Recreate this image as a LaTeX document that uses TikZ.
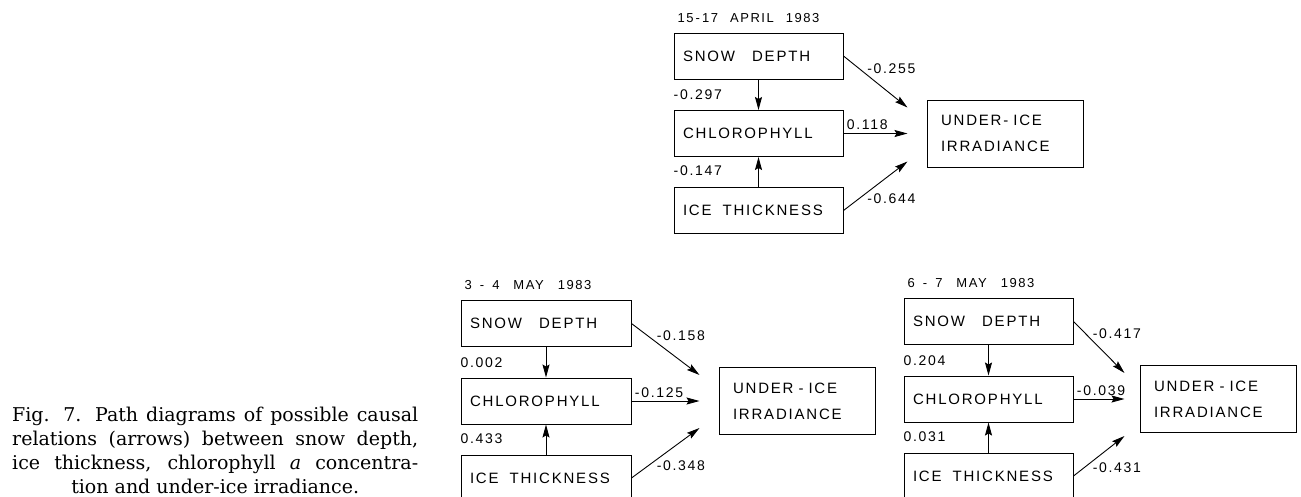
\documentclass[tikz,border=0pt]{standalone}
\usepackage{fontspec}
\usetikzlibrary{arrows.meta,positioning}
\newfontfamily\lettering[LetterSpace=12]{Liberation Sans}
\newfontfamily\captionserif{DejaVu Serif}

\begin{document}
\begin{tikzpicture}[x=1pt, y=-1pt, >={Stealth[length=13pt,width=7pt,inset=2pt]},
  box/.style={draw, line width=1pt, minimum height=46pt, inner xsep=9pt, align=left,
    font=\lettering\fontsize{15}{17}\selectfont},
  uibox/.style={draw, line width=1pt, minimum width=156pt, minimum height=67pt, inner xsep=14pt,
    text width=128pt, align=left, font=\lettering\fontsize{15}{26}\selectfont},
  coef/.style={inner sep=0pt, font=\lettering\fontsize{14}{16}\selectfont},
  datetitle/.style={inner sep=0pt, anchor=south west, font=\lettering\fontsize{13}{15}\selectfont},
  link/.style={->, line width=0.9pt}]
\useasboundingbox (0,0) rectangle (1301,496);
\clip (0,0) rectangle (1301,496);
% three path diagrams
\foreach \d/\bx/\cy/\bw/\ux/\gap/\dn/\tit/\uitxt/\ps/\pi/\qs/\qc/\qi in {
    a/674/133.5/169/927/19/28/{15\hspace{2pt}-\hspace{2pt}17\hspace{12pt}APRIL\hspace{12pt}1983}/{UNDER-\hspace{5pt}ICE\\IRRADIANCE}/-0.297/-0.147/-0.255/0.118/-0.644,
    b/461/401/170/719/19/27/{3\hspace{8pt}-\hspace{8pt}4\hspace{14pt}MAY\hspace{14pt}1983}/{UNDER\hspace{5pt}-\hspace{5pt}ICE\\IRRADIANCE}/0.002/0.433/-0.158/-0.125/-0.348,
    c/904/399/169/1140/15/37/{6\hspace{8pt}-\hspace{8pt}7\hspace{14pt}MAY\hspace{14pt}1983}/{UNDER\hspace{5pt}-\hspace{5pt}ICE\\IRRADIANCE}/0.204/0.031/-0.417/-0.039/-0.431}{
  \pgfmathsetmacro\tw{\bw-18}
  \node[box, minimum width=\bw, text width=\tw pt] (chl\d) at (\bx+\bw/2,\cy) {CHLOROPHYLL};
  \node[box, minimum width=\bw, text width=\tw pt] (snow\d) at (\bx+\bw/2,\cy-77.5) {SNOW\hspace{17pt}DEPTH};
  \node[box, minimum width=\bw, text width=\tw pt] (ice\d) at (\bx+\bw/2,\cy+77) {ICE\hspace{11pt}THICKNESS};
  \node[uibox] (ui\d) at (\ux+78,\cy) {\uitxt};
  \node[datetitle] (date\d) at ([xshift=4pt,yshift=10pt]snow\d.north west) {\tit};
  \coordinate (tip\d) at ([xshift=-\gap pt]ui\d.west);
  % arrows and path coefficients
  \draw[link] (snow\d) -- (chl\d);
  \draw[link] (ice\d) -- (chl\d);
  \node[coef, anchor=west] at ([yshift=15pt]chl\d.north west) {\ps};
  \node[coef, anchor=west] at ([yshift=16pt]ice\d.north west) {\pi};
  \draw[link] (snow\d.east) -- ([yshift=26pt]tip\d)
    node[coef, pos=0.35, anchor=south west, xshift=1pt] {\qs};
  \draw[link] (chl\d.east) -- (chl\d.east -| tip\d)
    node[coef, pos=0, anchor=south west, xshift=3pt, yshift=3pt] {\qc};
  \draw[link] (ice\d.east) -- ([yshift=-\dn pt]tip\d)
    node[coef, pos=0.35, anchor=north west, xshift=1pt] {\qi};
}
% caption
\node[anchor=north west, text width=406pt, inner sep=0pt, align=justify,
  font=\captionserif\fontsize{19}{24}\selectfont] (caption) at (12,407)
  {\parfillskip=0pt
   Fig. 7. Path diagrams of possible causal\linebreak relations (arrows) between snow depth,\linebreak
   ice thickness, chlorophyll \textit{a} concentra-\linebreak
   \hspace*{\fill}tion and under-ice irradiance.\hspace*{\fill}\par};
\end{tikzpicture}
\end{document}
